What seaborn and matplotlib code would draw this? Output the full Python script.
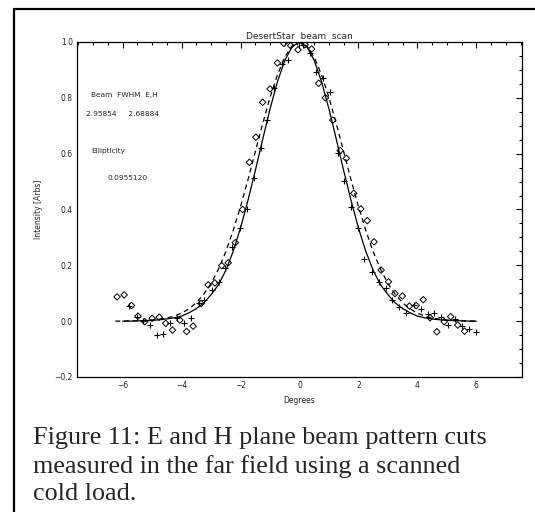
import numpy as np
import pandas as pd
import matplotlib
matplotlib.use("Agg")
import matplotlib.pyplot as plt
import seaborn as sns

# beam scan data
diamond_x = [-6.19, -5.95, -5.70, -5.48, -5.25, -5.00, -4.76, -4.54, -4.31, -4.06,
             -3.83, -3.61, -3.34, -3.10, -2.87, -2.64, -2.42, -2.18, -1.93, -1.70,
             -1.48, -1.25, -1.00, -0.75, -0.53, -0.30, -0.05, 0.19, 0.41, 0.65,
             0.88, 1.13, 1.38, 1.59, 1.84, 2.08, 2.30, 2.53, 2.77, 3.02,
             3.24, 3.49, 3.73, 3.96, 4.20, 4.43, 4.66, 4.91, 5.13, 5.37, 5.60]
diamond_y = [0.087, 0.094, 0.056, 0.018, -0.002, 0.010, 0.014, -0.008, -0.032, 0.004,
             -0.037, -0.018, 0.063, 0.130, 0.137, 0.199, 0.209, 0.281, 0.400, 0.569,
             0.659, 0.784, 0.832, 0.925, 0.995, 0.987, 0.972, 0.990, 0.975, 0.852,
             0.800, 0.720, 0.611, 0.583, 0.458, 0.402, 0.360, 0.284, 0.183, 0.141,
             0.099, 0.090, 0.054, 0.056, 0.077, 0.012, -0.038, -0.002, 0.016, -0.014, -0.036]

plus_x = [-5.78, -5.53, -5.30, -5.08, -4.85, -4.62, -4.38, -4.14, -3.92, -3.69,
          -3.42, -3.23, -2.98, -2.74, -2.52, -2.28, -2.02, -1.79, -1.55, -1.32,
          -1.09, -0.87, -0.60, -0.38, -0.10, 0.13, 0.36, 0.57, 0.81, 1.05,
          1.29, 1.51, 1.75, 1.98, 2.20, 2.45, 2.70, 2.93, 3.15, 3.39,
          3.61, 3.89, 4.12, 4.35, 4.58, 4.80, 5.03, 5.27, 5.51, 5.76, 5.98]
plus_y = [0.054, 0.014, -0.001, -0.013, -0.048, -0.045, -0.006, 0.011, -0.008, 0.012,
          0.066, 0.075, 0.113, 0.142, 0.191, 0.265, 0.333, 0.402, 0.511, 0.621,
          0.719, 0.835, 0.921, 0.934, 0.999, 0.990, 0.961, 0.894, 0.872, 0.820,
          0.603, 0.501, 0.410, 0.334, 0.224, 0.177, 0.140, 0.120, 0.074, 0.050,
          0.028, 0.057, 0.044, 0.024, 0.028, 0.014, -0.014, 0.006, -0.018, -0.027, -0.039]

# fitted beams (solid = H, dashed = E)
fit_h_x = [-6.0, -5.75, -5.5, -5.25, -5.0, -4.75, -4.5, -4.25, -4.0, -3.75, -3.5, -3.25,
           -3.0, -2.75, -2.5, -2.25, -2.0, -1.75, -1.5, -1.25, -1.0, -0.75, -0.5, -0.25,
           0.0, 0.25, 0.5, 0.75, 1.0, 1.25, 1.5, 1.75, 2.0, 2.25, 2.5, 2.75,
           3.0, 3.25, 3.5, 3.75, 4.0, 4.25, 4.5, 4.75, 5.0, 5.25, 5.5, 5.75, 6.0]
fit_h_y = [0.000, 0.000, 0.001, 0.002, 0.003, 0.005, 0.008, 0.012, 0.018, 0.030, 0.045, 0.065,
           0.095, 0.130, 0.182, 0.250, 0.334, 0.432, 0.539, 0.651, 0.760, 0.857, 0.934, 0.983,
           1.000, 0.983, 0.934, 0.857, 0.760, 0.651, 0.539, 0.432, 0.334, 0.250, 0.182, 0.130,
           0.095, 0.065, 0.045, 0.030, 0.018, 0.012, 0.008, 0.005, 0.003, 0.002, 0.001, 0.000, 0.000]

fit_e_x = [-6.25, -6.0, -5.75, -5.5, -5.25, -5.0, -4.75, -4.5, -4.25, -4.0, -3.75, -3.5, -3.25,
           -3.0, -2.75, -2.5, -2.25, -2.0, -1.75, -1.5, -1.25, -1.0, -0.75, -0.5, -0.25,
           0.0, 0.25, 0.5, 0.75, 1.0, 1.25, 1.5, 1.75, 2.0, 2.25, 2.5, 2.75,
           3.0, 3.25, 3.5, 3.75, 4.0, 4.25, 4.5, 4.75, 5.0, 5.25, 5.5, 5.75, 6.0]
fit_e_y = [0.000, 0.000, 0.001, 0.001, 0.002, 0.004, 0.007, 0.011, 0.018, 0.029, 0.044, 0.066, 0.096,
           0.135, 0.186, 0.249, 0.325, 0.411, 0.506, 0.607, 0.707, 0.801, 0.882, 0.946, 0.986,
           1.000, 0.986, 0.946, 0.882, 0.801, 0.707, 0.607, 0.506, 0.411, 0.325, 0.249, 0.186,
           0.135, 0.096, 0.066, 0.044, 0.029, 0.018, 0.011, 0.007, 0.004, 0.002, 0.001, 0.001, 0.000]

sns.set_style("white")
plt.rcParams['font.family'] = ['DejaVu Sans']
plt.rcParams['xtick.direction'] = 'in'
plt.rcParams['ytick.direction'] = 'in'

fig = plt.figure(figsize=(5.35, 5.12), dpi=100)
ax = fig.add_axes([0.1439, 0.2637, 0.8318, 0.6543])

sns.lineplot(x=fit_h_x, y=fit_h_y, ax=ax, color='k', lw=0.9, sort=False)
sns.lineplot(x=fit_e_x, y=fit_e_y, ax=ax, color='k', lw=0.9, sort=False, dashes=False)
ax.lines[-1].set_dashes([4, 3])

sns.scatterplot(x=diamond_x, y=diamond_y, ax=ax, marker='D', s=11,
                facecolor='none', edgecolor='k', linewidth=0.7, color='k')
sns.scatterplot(x=plus_x, y=plus_y, ax=ax, marker='+', s=20,
                color='k', edgecolor='k', linewidth=0.8)

ax.set_xlim(-7.55, 7.55)
ax.set_ylim(-0.2, 1.0)
ax.set_xticks([-6, -4, -2, 0, 2, 4, 6])
ax.set_xticks(np.arange(-7.5, 7.6, 0.5), minor=True)
ax.set_yticks([-0.2, 0.0, 0.2, 0.4, 0.6, 0.8, 1.0])
ax.set_yticks(np.arange(-0.2, 1.001, 0.05), minor=True)
ax.set_xticklabels(['\u22126', '\u22124', '\u22122', '0', '2', '4', '6'])
ax.set_yticklabels(['\u22120.2', '0.0', '0.2', '0.4', '0.6', '0.8', '1.0'])
ax.tick_params(which='both', top=True, right=True, labeltop=False, labelright=False,
               width=0.8, color='k', labelsize=5.5, pad=3)
ax.tick_params(which='major', length=4)
ax.tick_params(which='minor', length=2)
for s in ax.spines.values():
    s.set_color('k')
    s.set_linewidth(0.9)

ax.set_title('DesertStar  beam  scan', fontsize=6.5, pad=2)
ax.set_xlabel('Degrees', fontsize=5.5, labelpad=4)
ax.set_ylabel('Intensity [Arbs]', fontsize=5.5, labelpad=8)

ax.text(-7.06, 0.81, 'Beam  FWHM  E,H', fontsize=5.3, va='center')
ax.text(-7.25, 0.743, '2.95854     2.68884', fontsize=5.3, va='center')
ax.text(-7.06, 0.608, 'Ellipticity', fontsize=5.3, va='center')
ax.text(-6.53, 0.511, '0.0955120', fontsize=5.3, va='center')

# page frame (left and top only) and caption
fig.add_artist(plt.Line2D([0.0262, 0.0262], [0.0, 0.9824], color='k', lw=1.6,
                          transform=fig.transFigure))
fig.add_artist(plt.Line2D([0.0262, 1.0], [0.9824, 0.9824], color='k', lw=1.6,
                          transform=fig.transFigure))
fig.text(0.0617, 0.166,
         'Figure 11: E and H plane beam pattern cuts\n'
         'measured in the far field using a scanned\n'
         'cold load.',
         family='Liberation Serif', fontsize=18.8, va='top', linespacing=1.32)

fig.savefig('out.png', dpi=100, facecolor='white')
